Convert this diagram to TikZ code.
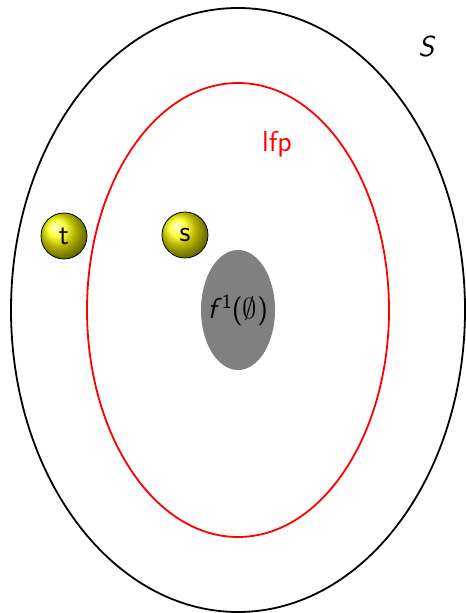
\documentclass[tikz,border=0pt]{standalone}
\usetikzlibrary{shapes.geometric}
\renewcommand{\familydefault}{\sfdefault}

\begin{document}
\begin{tikzpicture}[
                x=0.5pt, y=-0.5pt,
                every node/.style={font=\Large},
                region/.style={ellipse,draw,line width=0.9pt,inner sep=0pt},
                elem/.style={circle,draw,thin,ball color=yellow,minimum size=23pt,inner sep=0pt}
            ]
            \useasboundingbox (0,0) rectangle (465,613);

            \node[region,minimum width=227pt,minimum height=302pt] (S) at (238,310) {};
            \node[region,red,minimum width=151pt,minimum height=227pt] (lfp) at (238,310) {};
            \node[ellipse,fill=gray,minimum width=37pt,minimum height=60pt,inner sep=0pt] (f1) at (238,310) {};
            \node at (f1) {\textit{f}\raisebox{0.8ex}{\normalsize 1}($\emptyset$)};

            \node (Slabel) at (427,47) {\textit{S}};
            \node[red] (lfplabel) at (277,144) {lfp};

            \node[elem] (t) at (64,236) {t};
            \node[elem] (s) at (185,235) {s};

        \end{tikzpicture}
\end{document}
